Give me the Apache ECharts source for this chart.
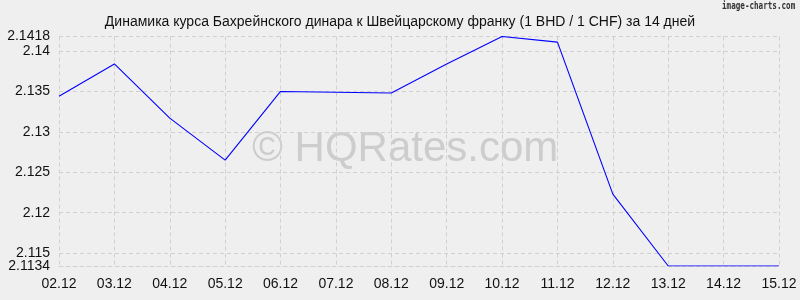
<!DOCTYPE html>
<html><head><meta charset="utf-8">
<script src="https://cdn.jsdelivr.net/npm/echarts@6/dist/echarts.min.js"></script>
<style>html,body{margin:0;padding:0;background:#efefef}#c{width:800px;height:300px}</style>
</head><body><div id="c"></div>
<script>
var categories = ['02.12','03.12','04.12','05.12','06.12','07.12','08.12','09.12','10.12','11.12','12.12','13.12','14.12','15.12'];
var rates = [2.1344,2.1384,2.1317,2.1265,2.1350,2.1349,2.1348,2.1384,2.1418,2.1411,2.1223,2.1134,2.1134,2.1134];
var yTicks = [2.1134,2.115,2.12,2.125,2.13,2.135,2.14,2.1418];
var yMin = 2.1134, yMax = 2.1418;
var titleText = 'Динамика курса Бахрейнского динара к Швейцарскому франку (1 BHD / 1 CHF) за 14 дней';

var chart = echarts.init(document.getElementById('c'), null, {renderer:'canvas'});
var grid = '#d0d0d0';
var dash = [4,3];
function fmt(v){return String(+(+v).toFixed(4));}
var labelStyle = {color:'#111',fontFamily:'Liberation Sans',fontSize:14,margin:9,hideOverlap:false,
  showMinLabel:true,showMaxLabel:true,formatter:fmt};
// second axis carries the labels that the first one would drop next to its min label
var crowded = yTicks.filter(function(v,i){return i===1;});
var mainLabels = yTicks.filter(function(v,i){return i!==1;});
chart.setOption({
  backgroundColor:'#efefef',
  animation:false,
  title:{text:titleText,left:'center',top:10,textStyle:{fontFamily:'Liberation Sans',fontSize:14,fontWeight:'normal',color:'#111'}},
  graphic:[
    {type:'text',x:722,y:1,scaleX:0.76,style:{text:'image-charts.com',font:'bold 10px "DejaVu Sans Mono"',fill:'#333'}},
    {type:'text',left:252,top:128,z:-1,style:{text:'© HQRates.com',font:'42px "Liberation Sans"',fill:'#cdcdcd'}}
  ],
  grid:{left:59,right:21,top:36.5,bottom:34,containLabel:false},
  xAxis:{type:'category',data:categories,boundaryGap:false,
    axisLine:{show:true,lineStyle:{color:grid,type:dash}},axisTick:{show:false},
    axisLabel:{color:'#111',fontFamily:'Liberation Sans',fontSize:14,margin:11},
    splitLine:{show:true,lineStyle:{color:grid,type:dash}}},
  yAxis:[
    {type:'value',min:yMin,max:yMax,position:'left',
      axisLine:{show:false},
      axisTick:{show:false,customValues:yTicks},
      axisLabel:Object.assign({customValues:mainLabels},labelStyle),
      splitLine:{show:true,lineStyle:{color:grid,type:dash}}},
    {type:'value',min:yMin,max:yMax,position:'left',offset:0,
      axisLine:{show:false},
      axisTick:{show:false,customValues:crowded},
      axisLabel:Object.assign({customValues:crowded},labelStyle,{showMinLabel:false,showMaxLabel:false}),
      splitLine:{show:false}}
  ],
  series:[
    {type:'line',data:rates,z:3,showSymbol:false,symbol:'none',lineStyle:{color:'#0000ff',width:1.1}}
  ]
});
</script></body></html>
